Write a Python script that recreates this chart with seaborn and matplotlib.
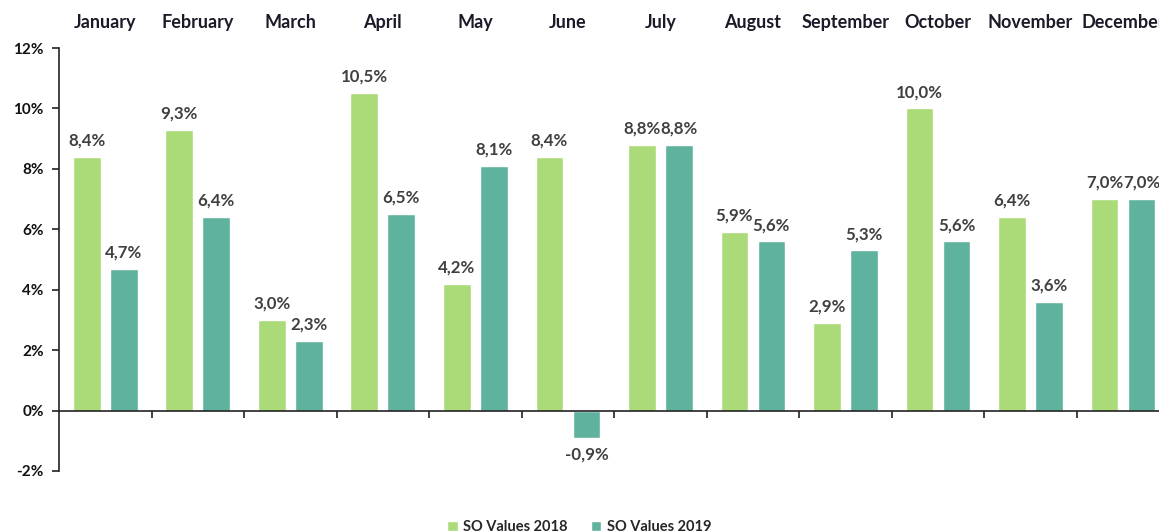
import matplotlib
matplotlib.use("Agg")
import matplotlib.pyplot as plt
import seaborn as sns
import pandas as pd
import numpy as np
from matplotlib.ticker import FixedLocator, FuncFormatter

months = ["January", "February", "March", "April", "May", "June",
          "July", "August", "September", "October", "November", "December"]
values_2018 = [8.4, 9.3, 3.0, 10.5, 4.2, 8.4, 8.8, 5.9, 2.9, 10.0, 6.4, 7.0]
values_2019 = [4.7, 6.4, 2.3, 6.5, 8.1, -0.9, 8.8, 5.6, 5.3, 5.6, 3.6, 7.0]
series = ["SO Values 2018", "SO Values 2019"]
colors = ["#AADB78", "#5FB29E"]

df = pd.DataFrame({
    "month": months * 2,
    "value": values_2018 + values_2019,
    "series": [series[0]] * len(months) + [series[1]] * len(months),
})

sns.set_theme(style="white")
plt.rcParams["font.family"] = ["Lato", "DejaVu Sans"]
plt.rcParams["font.weight"] = "bold"

fig = plt.figure(figsize=(11.59, 5.31), dpi=100)
ax = fig.add_axes([0.0509, 0.113, 0.958, 0.7966])

sns.barplot(data=df, x="month", y="value", hue="series", palette=colors,
            saturation=1, gap=0.25, errorbar=None, ax=ax)

for cont in ax.containers:
    labels = [f"{b.get_height():.1f}%".replace(".", ",") for b in cont]
    ax.bar_label(cont, labels=labels, padding=6, fontsize=12.2,
                 fontweight="bold", color="#404040")

ax.set_xlim(-0.5, len(months) - 0.5)
ax.set_ylim(-2, 12)
ax.set_yticks(np.arange(-2, 13, 2))
ax.yaxis.set_major_formatter(FuncFormatter(lambda v, p: f"{v:.0f}%"))
ax.set_xlabel("")
ax.set_ylabel("")

# month names on top, separators on the zero line
ax.tick_params(axis="x", which="major", length=0, labeltop=True,
               labelbottom=False, pad=12, labelsize=13, labelcolor="#1a1a28")
ax.xaxis.set_minor_locator(FixedLocator(np.arange(len(months)) + 0.5))
ax.tick_params(axis="x", which="minor", bottom=True, direction="out",
               length=5, width=1.2, color="#222222")
ax.tick_params(axis="y", left=True, direction="out", length=5, width=1.2,
               color="#222222", labelsize=11, labelcolor="#111111", pad=6)

for s in ["top", "right"]:
    ax.spines[s].set_visible(False)
ax.spines["bottom"].set_position(("data", 0))
ax.spines["bottom"].set_color("#222222")
ax.spines["left"].set_color("#222222")
ax.spines["bottom"].set_linewidth(1.2)
ax.spines["left"].set_linewidth(1.2)

handles, labs = ax.get_legend_handles_labels()
ax.get_legend().remove()
fig.legend(handles, labs, loc="lower center", bbox_to_anchor=(0.5, -0.03),
           ncol=2, frameon=False, handlelength=0.7, handleheight=0.7,
           handletextpad=0.4, columnspacing=1.6, fontsize=10.5)

fig.savefig("out.png", dpi=100)
